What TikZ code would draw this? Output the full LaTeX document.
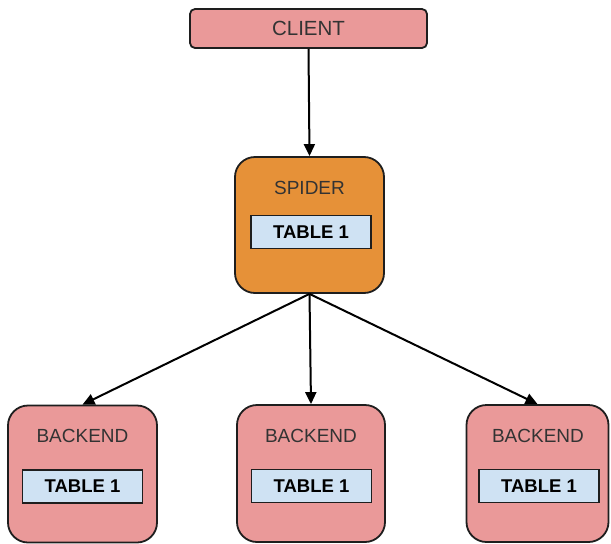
\documentclass[tikz,border=0pt]{standalone}
\usepackage{fontspec}
\setmainfont{Liberation Sans}
\usetikzlibrary{arrows.meta}
\definecolor{pinkf}{HTML}{EA9999}
\definecolor{orangef}{HTML}{E69138}
\definecolor{bluef}{HTML}{CFE2F3}
\definecolor{edgec}{HTML}{1E1E1E}
\definecolor{txtc}{HTML}{333333}
\begin{document}
\begin{tikzpicture}[x=1pt,y=-1pt,
  bigbox/.style={draw=edgec, line width=1.8pt, rounded corners=20pt, inner sep=0pt},
  clientbox/.style={draw=edgec, line width=1.8pt, rounded corners=5pt, fill=pinkf, inner sep=0pt,
    minimum width=237pt, minimum height=39pt, text=txtc, font=\fontsize{20.5}{20.5}\selectfont},
  lbl/.style={text=txtc, inner sep=0pt, font=\fontsize{19}{19}\selectfont},
  tablebox/.style={draw=edgec, line width=1.8pt, fill=bluef, inner sep=0pt,
    minimum width=120pt, minimum height=33pt, text=black, font=\bfseries\fontsize{18.5}{18.5}\selectfont},
  conn/.style={draw=black, line width=2pt, -{Triangle[length=12pt,width=11pt]}}
]
\useasboundingbox (0,0) rectangle (611,544);
\node[clientbox] (client) at (308.5,28.5) {CLIENT};
\node[bigbox, fill=orangef, minimum width=149pt, minimum height=136pt] (spider) at (309.5,225) {};
\node[lbl] (spiderlbl) at (309.5,188) {SPIDER};
\node[tablebox] (spidertab) at (311,232) {TABLE 1};

\node[bigbox, fill=pinkf, minimum width=149pt, minimum height=137pt] (bl) at (82.5,474) {};
\node[lbl] (bllbl) at (82.5,436) {BACKEND};
\node[tablebox] (bltab) at (82.5,486.5) {TABLE 1};

\node[bigbox, fill=pinkf, minimum width=148pt, minimum height=137pt] (bm) at (311,473.5) {};
\node[lbl] (bmlbl) at (311,436) {BACKEND};
\node[tablebox] (bmtab) at (311.5,486) {TABLE 1};

\node[bigbox, fill=pinkf, minimum width=142pt, minimum height=137pt] (br) at (537.5,473.5) {};
\node[lbl] (brlbl) at (538,436) {BACKEND};
\node[tablebox] (brtab) at (539,486) {TABLE 1};

\draw[conn] (client.south) -- (spider.north);
\draw[conn] (spider.south) -- (bl.north);
\draw[conn] (spider.south) -- (bm.north);
\draw[conn] (spider.south) -- (br.north);
\end{tikzpicture}
\end{document}
